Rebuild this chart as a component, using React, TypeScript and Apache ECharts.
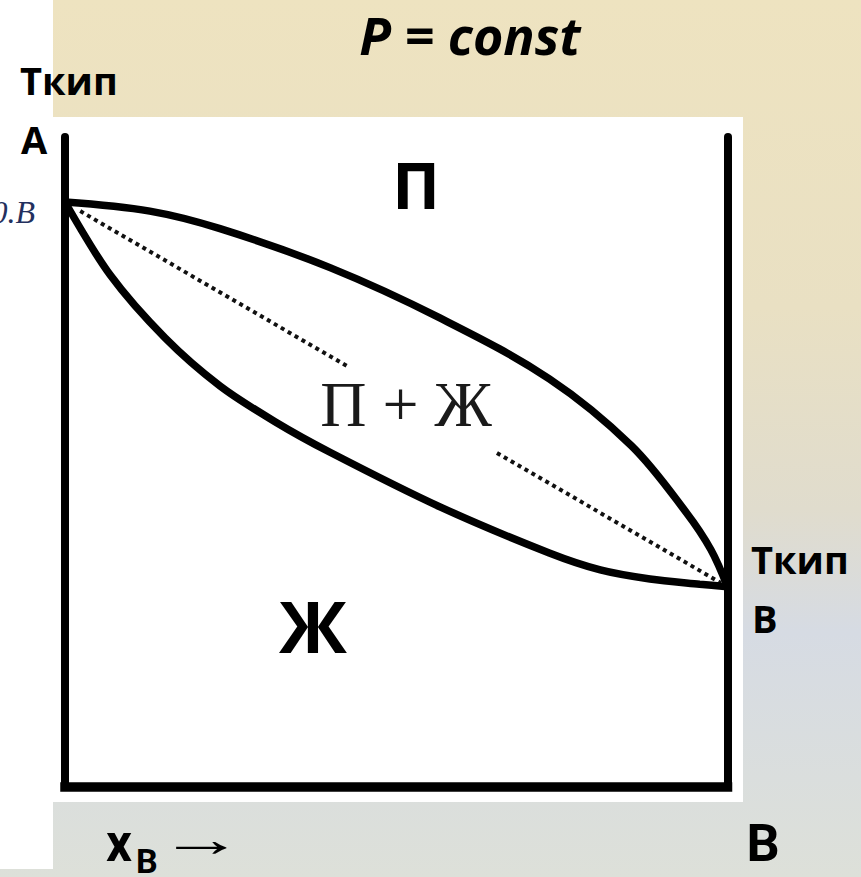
import React, { useEffect, useRef } from "react";
import * as echarts from "echarts";

// Composition of B (mole fraction) and boiling temperature (arbitrary units)
const vaporX = [0, 0.128, 0.234, 0.4, 0.565, 0.731, 0.855, 0.938, 0.975, 1];
const vaporT = [90, 88.6, 85.9, 79.9, 72.2, 62.8, 52.5, 42.2, 36.5, 30.8];
const liquidX = [0, 0.068, 0.151, 0.234, 0.317, 0.4, 0.566, 0.731, 0.808, 0.883, 0.958, 1];
const liquidT = [90, 78.8, 69.1, 61.7, 56.2, 51.5, 43.1, 36.0, 33.4, 32.0, 31.2, 30.8];
const tieX1 = [0.023, 0.425];
const tieT1 = [88.6, 64.8];
const tieX2 = [0.652, 0.99];
const tieT2 = [51.4, 31.4];

const zip = (xs: number[], ys: number[]) => xs.map((x, i) => [x, ys[i]]);

const sans = '"Open Sans"';

function txt(
  text: string,
  x: number,
  y: number,
  font: string,
  align: string,
  fill = "#000",
  scaleX = 1
) {
  return {
    type: "text",
    x,
    y,
    scaleX,
    z: 100,
    style: {
      text,
      font,
      fill,
      textAlign: align,
      textVerticalAlign: "middle",
      align,
      verticalAlign: "middle",
    },
  };
}

export default function App() {
  const ref = useRef<HTMLDivElement>(null);
  useEffect(() => {
    if (!ref.current) return;
    const chart = echarts.init(ref.current, undefined, { renderer: "svg" });
    const hiddenAxis = {
      axisTick: { show: false },
      axisLabel: { show: false },
      splitLine: { show: false },
    };
    chart.setOption({
      animation: false,
      backgroundColor: "transparent",
      grid: { left: 65, right: 133.5, top: 137, bottom: 90, containLabel: false },
      xAxis: {
        type: "value",
        min: 0,
        max: 1,
        ...hiddenAxis,
        axisLine: { show: true, onZero: false, lineStyle: { color: "#000", width: 9.5, cap: "square" } },
      },
      yAxis: [
        {
          type: "value",
          min: 0,
          max: 100,
          position: "left",
          ...hiddenAxis,
          axisLine: { show: true, onZero: false, lineStyle: { color: "#000", width: 8 } },
        },
        {
          type: "value",
          min: 0,
          max: 100,
          position: "right",
          ...hiddenAxis,
          axisLine: { show: true, onZero: false, lineStyle: { color: "#000", width: 8 } },
        },
      ],
      series: [
        {
          type: "line",
          data: zip(tieX1, tieT1),
          symbol: "none",
          z: 2,
          lineStyle: { color: "#111", width: 4, type: [4, 4] },
        },
        {
          type: "line",
          data: zip(tieX2, tieT2),
          symbol: "none",
          z: 2,
          lineStyle: { color: "#111", width: 4, type: [4, 4] },
        },
        {
          type: "line",
          data: zip(vaporX, vaporT),
          symbol: "none",
          smooth: 0.35,
          z: 3,
          lineStyle: { color: "#000", width: 7.5, cap: "round" },
        },
        {
          type: "line",
          data: zip(liquidX, liquidT),
          symbol: "none",
          smooth: 0.3,
          z: 3,
          lineStyle: { color: "#000", width: 7.5, cap: "round" },
        },
      ],
      graphic: [
        txt("P = const", 470, 34, `italic bold 52px ${sans}`, "center"),
        txt("Ткип", 20, 80, `bold 38px ${sans}`, "left"),
        txt("A", 21, 139, `bold 38px ${sans}`, "left"),
        txt("0.B", 35, 212, 'italic 32px "Liberation Serif"', "right", "#23305e"),
        txt("П", 416, 184, `bold 64px ${sans}`, "center"),
        txt("П + Ж", 406, 404, '64px "Liberation Serif"', "center", "#1a1a1a"),
        txt("Ж", 313, 625, `bold 72px ${sans}`, "center"),
        txt("Ткип", 751, 559, `bold 38px ${sans}`, "left"),
        txt("B", 752, 618, `bold 38px ${sans}`, "left"),
        txt("x", 106, 843, "bold 51px Roboto", "left"),
        txt("B", 136, 861, "bold 34px Roboto", "left"),
        txt("→", 159, 839, '50px "Liberation Serif"', "left", "#000", 1.7),
        txt("B", 763, 843, "bold 52px Roboto", "center"),
      ],
    });
    return () => chart.dispose();
  }, []);

  return (
    <div
      style={{
        position: "fixed",
        left: 0,
        top: 0,
        width: 861,
        height: 877,
        overflow: "hidden",
        background:
          "linear-gradient(to bottom, #eee3c0 0%, #e9e0c3 35%, #e0dccd 58%, #d6dbe3 72%, #dde0d9 100%)",
      }}
    >
      <div style={{ position: "absolute", left: 0, top: 0, width: 53, height: 869, background: "#fff" }} />
      <div style={{ position: "absolute", left: 53, top: 117, width: 690, height: 685, background: "#fff" }} />
      <div ref={ref} style={{ position: "absolute", left: 0, top: 0, width: 861, height: 877 }} />
    </div>
  );
}
